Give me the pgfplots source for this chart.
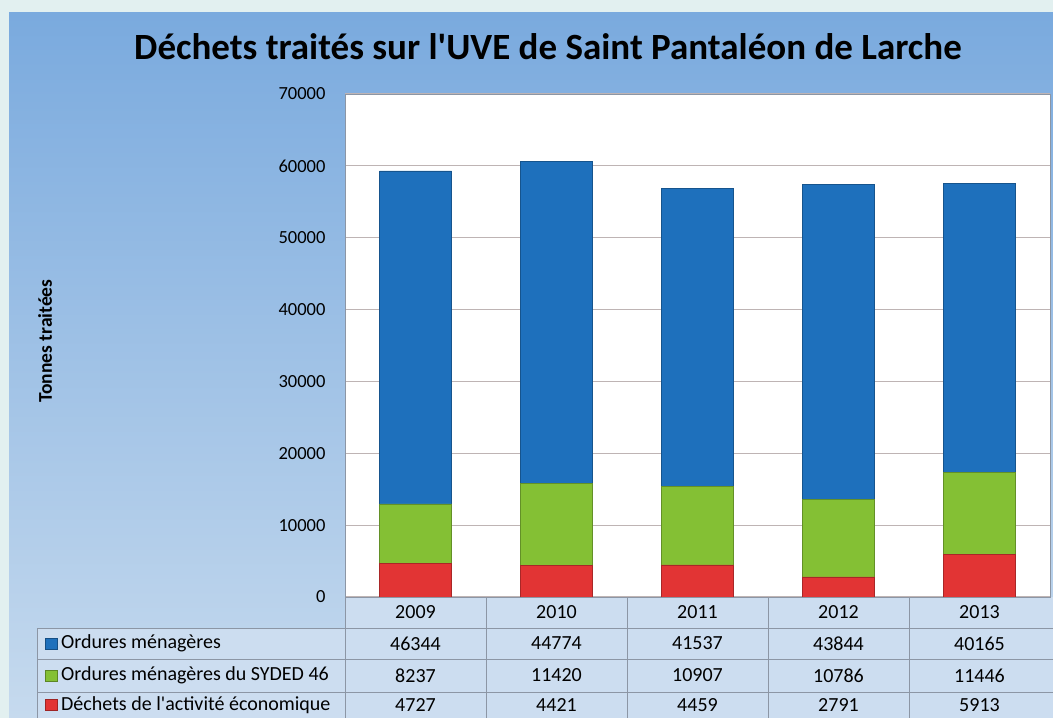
\documentclass[border=0pt]{standalone}
\usepackage{pgfplots}
\pgfplotsset{compat=1.18}
\usepackage{pgfplotstable}
\usepackage{fontspec}
\setmainfont{Carlito}[Ligatures=TeXOff]

\definecolor{omblue}{RGB}{30,112,188}
\definecolor{sygreen}{RGB}{132,192,52}
\definecolor{dared}{RGB}{226,52,52}
\definecolor{paneltop}{RGB}{122,170,222}
\definecolor{panelbot}{RGB}{198,218,238}
\definecolor{outerc}{RGB}{226,240,240}
\definecolor{gridgray}{RGB}{190,180,180}
\definecolor{tabline}{RGB}{140,150,165}
\definecolor{cellfill}{RGB}{204,221,240}

\newcommand{\tabfont}{\fontsize{20bp}{23bp}\selectfont}

\pgfplotstableread{
x year om syded dae
0 2009 46344 8237 4727
1 2010 44774 11420 4421
2 2011 41537 10907 4459
3 2012 43844 10786 2791
4 2013 40165 11446 5913
}\datatable

\begin{document}
\begin{tikzpicture}[x=1bp,y=1bp]
\useasboundingbox (0,0) rectangle (1053,718);
\fill[outerc] (0,0) rectangle (1053,718);
\shade[top color=paneltop, bottom color=panelbot] (9,0) rectangle (1053,705);
% title
\node[font=\fontsize{37bp}{41bp}\selectfont\bfseries] at (548,671) {Déchets traités sur l'UVE de Saint Pantaléon de Larche};
% y label
\node[rotate=90, font=\fontsize{19.5bp}{22bp}\selectfont\bfseries] at (45,377) {Tonnes traitées};
% table cells
\fill[cellfill] (345,0) rectangle (1053,121);
\fill[cellfill] (37,0) rectangle (345,90);

\begin{axis}[
  at={(345bp,121bp)}, anchor=south west, scale only axis,
  width=705bp, height=503bp,
  ybar stacked, bar width=72bp,
  xmin=-0.5, xmax=4.5, ymin=0, ymax=70000,
  xtick=\empty,
  ytick={0,10000,...,70000},
  scaled y ticks=false,
  ymajorgrids, grid style={gridgray, line width=1bp},
  axis line style={tabline, line width=0.8bp},
  major tick style={draw=none},
  yticklabel shift=16bp,
  yticklabel style={font=\fontsize{18.5bp}{21bp}\selectfont},
  /pgf/number format/.cd, 1000 sep={}, assume math mode=true,
  /pgfplots/.cd,
  axis background/.style={fill=white},
]
\addplot[fill=dared, draw=dared!75!black, line width=0.6bp] table[x=x,y=dae]{\datatable};
\addplot[fill=sygreen, draw=sygreen!75!black, line width=0.6bp] table[x=x,y=syded]{\datatable};
\addplot[fill=omblue, draw=omblue!75!black, line width=0.6bp] table[x=x,y=om]{\datatable};
\end{axis}

% table lines
\draw[tabline, line width=0.8bp] (37,90) -- (1053,90);
\draw[tabline, line width=0.8bp] (37,59) -- (1053,59);
\draw[tabline, line width=0.8bp] (37,26) -- (1053,26);
\draw[tabline, line width=0.8bp] (37,0) -- (37,90);
\draw[tabline, line width=0.8bp] (345,0) -- (345,121);
\foreach \c in {486,627,768,909}{
  \draw[tabline, line width=0.8bp] (\c,0) -- (\c,121);
}
% legend column
\fill[omblue, draw=omblue!70!black] (45,69) rectangle (57,80);
\node[anchor=west, font=\tabfont, inner sep=0pt] at (61,74.5) {Ordures ménagères};
\fill[sygreen, draw=sygreen!70!black] (45,37) rectangle (57,48);
\node[anchor=west, font=\tabfont, inner sep=0pt] at (61,42.5) {Ordures ménagères du SYDED 46};
\fill[dared, draw=dared!70!black] (45,7.5) rectangle (57,18.5);
\node[anchor=west, font=\tabfont, inner sep=0pt] at (61,13) {Déchets de l'activité économique};
% table values
\foreach \i in {0,...,4}{
  \pgfmathsetmacro{\cx}{415.5+141*\i}
  \pgfplotstablegetelem{\i}{year}\of\datatable
  \node[font=\tabfont] at (\cx,105.5) {\pgfplotsretval};
  \pgfplotstablegetelem{\i}{om}\of\datatable
  \node[font=\tabfont] at (\cx,74.5) {\pgfplotsretval};
  \pgfplotstablegetelem{\i}{syded}\of\datatable
  \node[font=\tabfont] at (\cx,42.5) {\pgfplotsretval};
  \pgfplotstablegetelem{\i}{dae}\of\datatable
  \node[font=\tabfont] at (\cx,13) {\pgfplotsretval};
}
\end{tikzpicture}
\end{document}
